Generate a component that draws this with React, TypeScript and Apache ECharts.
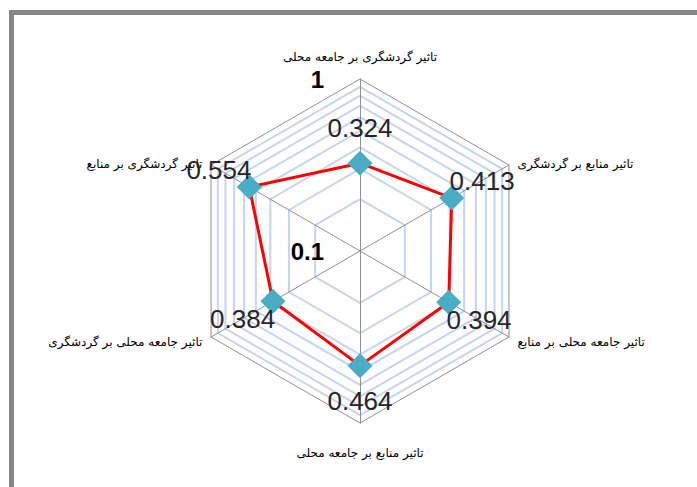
import { useEffect, useRef } from 'react';
import * as echarts from 'echarts';

// Indicators in ECharts order (counter-clockwise from the top)
const indicatorNames = [
  'تاثیر گردشگری بر جامعه محلی',
  'تاثیر گردشگری بر منابع',
  'تاثیر جامعه محلی بر گردشگری',
  'تاثیر منابع بر جامعه محلی',
  'تاثیر جامعه محلی بر منابع',
  'تاثیر منابع بر گردشگری',
];
const values = [0.324, 0.554, 0.384, 0.464, 0.394, 0.413];
// logarithmic value axis
const axisMin = 0.1;
const axisMax = 1;
const minorGridValues = [0.2, 0.3, 0.4, 0.5, 0.6, 0.7, 0.8, 0.9];

export default function App() {
  const ref = useRef<HTMLDivElement>(null);
  useEffect(() => {
    const chart = echarts.init(ref.current!, null, { renderer: 'svg' });
    const cx = 360;
    const cy = 251;
    const R = 172;
    // the radar component has no log axis: map values onto a 0..1 log position
    const logPos = (v: number) =>
      (Math.log10(v) - Math.log10(axisMin)) / (Math.log10(axisMax) - Math.log10(axisMin));
    const fromPos = (t: number) => axisMin * Math.pow(axisMax / axisMin, t);
    const positions = values.map(logPos);

    const ringRadars = minorGridValues.map((v) => ({
      center: [cx, cy],
      radius: R * logPos(v),
      shape: 'polygon',
      splitNumber: 1,
      indicator: indicatorNames.map(() => ({ name: '', min: 0, max: 1 })),
      axisName: { show: false },
      axisLine: { show: false },
      axisTick: { show: false },
      axisLabel: { show: false },
      splitArea: { show: false },
      splitLine: { lineStyle: { color: '#c6d5ee', width: 2 } },
    }));

    const nameStyle = { fontSize: 12, fontFamily: 'DejaVu Sans', color: '#000' };
    const mainRadar = {
      center: [cx, cy],
      radius: R,
      shape: 'polygon',
      splitNumber: 1,
      nameGap: 10,
      indicator: indicatorNames.map((name, i) => ({
        name,
        min: 0,
        max: 1,
        ...(i === 0
          ? {
              axisLabel: {
                show: true,
                fontSize: 24,
                fontWeight: 'bold',
                color: '#000',
                fontFamily: 'Liberation Sans',
                margin: 36,
                showMinLabel: true,
                showMaxLabel: true,
                formatter: (t: number) => String(+fromPos(t).toPrecision(3)),
              },
            }
          : {}),
      })),
      axisName: {
        ...nameStyle,
        formatter: (name: string) => {
          const i = indicatorNames.indexOf(name);
          if (i === 0) return `{t|${name}}`;
          if (i === 3) return `{b|${name}}`;
          if (i === 1 || i === 5) return `{u|${name}}`;
          return `{n|${name}}`;
        },
        rich: {
          t: { ...nameStyle, padding: [0, 0, 6, 0] },
          b: { ...nameStyle, padding: [14, 0, 0, 0] },
          u: { ...nameStyle, padding: [8, 0, 0, 0] },
          n: { ...nameStyle },
        },
      },
      axisLine: { lineStyle: { color: '#8f8f8f', width: 1 } },
      splitLine: { lineStyle: { color: '#8f8f8f', width: 1 } },
      splitArea: { show: false },
      axisTick: { show: false },
      axisLabel: { show: false },
      z: 3,
    };

    const D = 35;
    chart.setOption({
      animation: false,
      backgroundColor: '#fff',
      graphic: [
        { type: 'rect', shape: { x: 9, y: 10, width: 688, height: 5 }, style: { fill: '#878787' } },
        { type: 'rect', shape: { x: 9, y: 10, width: 5, height: 477 }, style: { fill: '#878787' } },
      ],
      radar: [mainRadar, ...ringRadars],
      series: [
        {
          type: 'radar',
          radarIndex: 0,
          symbol: 'diamond',
          symbolSize: 25,
          lineStyle: { color: '#ff0000', width: 3 },
          itemStyle: { color: '#4bacc6' },
          label: {
            show: true,
            fontSize: 26,
            color: '#262626',
            fontFamily: 'Liberation Sans',
            formatter: (p: any) => {
              const i = positions.indexOf(p.value);
              return i >= 0 ? String(values[i]) : '';
            },
          },
          labelLayout: (p: any) => {
            const i = values.findIndex((v) => String(v) === p.text);
            const ang = Math.PI / 2 + (i * 2 * Math.PI) / values.length;
            return {
              x: p.rect.x + p.rect.width / 2 + Math.cos(ang) * D,
              y: p.rect.y + p.rect.height / 2 - Math.sin(ang) * D,
              align: 'center',
              verticalAlign: 'middle',
            };
          },
          data: [{ value: positions }],
          z: 5,
        },
      ],
    });
    return () => chart.dispose();
  }, []);
  return (
    <div
      ref={ref}
      style={{ position: 'fixed', left: 0, top: 0, width: 697, height: 487 }}
    />
  );
}
